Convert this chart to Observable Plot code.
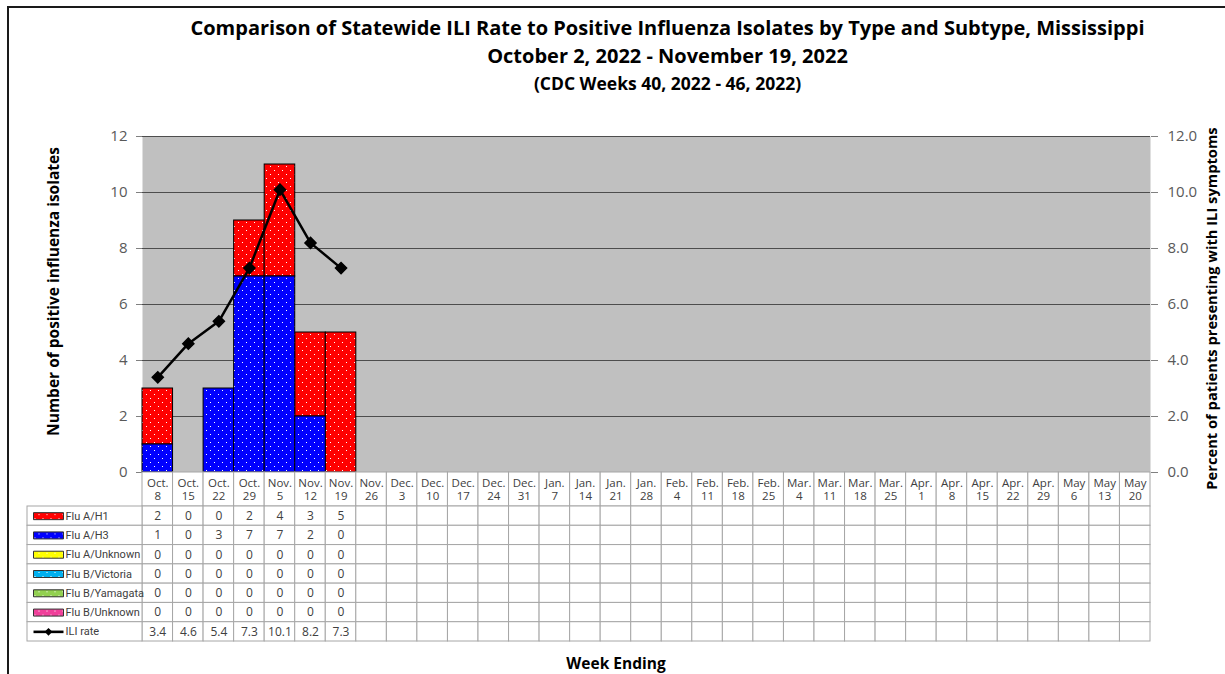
<!DOCTYPE html>
<html><head><meta charset="utf-8">
<script src="https://cdn.jsdelivr.net/npm/d3@7"></script>
<script src="https://cdn.jsdelivr.net/npm/@observablehq/plot@0.6"></script>
<style>
body{margin:0;background:#fff;font-family:"Open Sans",sans-serif;}
#root{position:relative;width:1225px;height:674px;overflow:hidden;background:#fff;}
.abs{position:absolute;}
.ttl{position:absolute;left:110px;right:0;text-align:center;font-weight:bold;color:#000;white-space:nowrap;}
#frameBox{position:absolute;left:7px;top:6px;width:1300px;height:800px;border-left:2px solid #1a1a1a;border-top:2px solid #1a1a1a;}
</style></head><body><div id="root">
<div id="frameBox"></div>
<svg width="0" height="0" style="position:absolute"><defs id="pdefs"></defs></svg>
<div class="ttl" style="top:14px;font-size:20px;line-height:28px;">Comparison of Statewide ILI Rate to Positive Influenza Isolates by Type and Subtype, Mississippi</div>
<div class="ttl" style="top:42px;font-size:20px;line-height:28px;">October 2, 2022 - November 19, 2022</div>
<div class="ttl" style="top:71px;font-size:17.5px;line-height:24px;">(CDC Weeks 40, 2022 - 46, 2022)</div>
<div class="abs" style="left:0;width:1232px;top:655px;text-align:center;font-weight:bold;font-size:15.5px;line-height:17px;">Week Ending</div>
</div>
<script>
// ---- data ----
const months = ["Oct.","Oct.","Oct.","Oct.","Nov.","Nov.","Nov.","Nov.","Dec.","Dec.","Dec.","Dec.","Dec.","Jan.","Jan.","Jan.","Jan.","Feb.","Feb.","Feb.","Feb.","Mar.","Mar.","Mar.","Mar.","Apr.","Apr.","Apr.","Apr.","Apr.","May","May","May"];
const days = [8,15,22,29,5,12,19,26,3,10,17,24,31,7,14,21,28,4,11,18,25,4,11,18,25,1,8,15,22,29,6,13,20];
const fluAH1 = [2,0,0,2,4,3,5];
const fluAH3 = [1,0,3,7,7,2,0];
const fluAUnknown = [0,0,0,0,0,0,0];
const fluBVictoria = [0,0,0,0,0,0,0];
const fluBYamagata = [0,0,0,0,0,0,0];
const fluBUnknown = [0,0,0,0,0,0,0];
const iliRate = [3.4,4.6,5.4,7.3,10.1,8.2,7.3];
const seriesNames = ["Flu A/H1","Flu A/H3","Flu A/Unknown","Flu B/Victoria","Flu B/Yamagata","Flu B/Unknown","ILI rate"];
const seriesColors = ["#ff0000","#0000ff","#ffff00","#00b0f0","#92d050","#f0409a"];
const stackOrder = ["Flu A/H3","Flu A/H1","Flu A/Unknown","Flu B/Victoria","Flu B/Yamagata","Flu B/Unknown"];
const yTicks = [0,2,4,6,8,10,12];
const leftTitle = "Number of positive influenza isolates";
const rightTitle = "Percent of patients presenting with ILI symptoms";

// ---- patterns (white dots) ----
const defs = document.getElementById("pdefs");
seriesColors.forEach((c,i)=>{
  defs.insertAdjacentHTML("beforeend",
   `<pattern id="pat${i}" width="8" height="8" patternUnits="userSpaceOnUse">
      <rect width="8" height="8" fill="${c}"/>
      <rect x="2" y="2" width="1" height="1" fill="#fff"/>
      <rect x="6" y="6" width="1" height="1" fill="#fff"/>
    </pattern>`);
});
const pat = i => `url(#pat${i})`;

const weeks = months.map((m,i)=>`${m}\n${days[i]}`);
const seriesValues = [fluAH1, fluAH3, fluAUnknown, fluBVictoria, fluBYamagata, fluBUnknown];
const barData = [];
seriesValues.forEach((vals,s)=>vals.forEach((v,i)=>{ if (v>0) barData.push({week:weeks[i], value:v, series:seriesNames[s], fill:pat(s)}); }));
const iliData = iliRate.map((v,i)=>({week:weeks[i], ili:v}));

const root = document.getElementById("root");
function place(el, left, top){ el.style.position="absolute"; el.style.left=left+"px"; el.style.top=top+"px"; root.appendChild(el); }
const xBand = {type:"band", domain:weeks, padding:0, round:false, axis:null};

// ---- main chart ----
const main = Plot.plot({
  width:1225, height:480, marginTop:136, marginBottom:8, marginLeft:142, marginRight:75,
  style:{fontFamily:"Open Sans", fontSize:"15px", background:"transparent", overflow:"visible"},
  x:xBand,
  y:{domain:[0,12], axis:null},
  color:{type:"identity"},
  marks:[
    Plot.frame({fill:"#c0c0c0", stroke:null}),
    Plot.gridY(yTicks.slice(1), {stroke:"#4d4d4d", strokeOpacity:1}),
    Plot.barY(barData, Plot.stackY({x:"week", y:"value", z:"series", fill:"fill", stroke:"#000", strokeWidth:1, order:stackOrder})),
    Plot.ruleY([0], {stroke:"#808080"}),
    Plot.line(iliData, {x:"week", y:"ili", stroke:"#000", strokeWidth:2.5}),
    Plot.dot(iliData, {x:"week", y:"ili", symbol:"diamond2", r:5, fill:"#000", stroke:"#000"}),
    Plot.axisY(yTicks, {anchor:"left", tickSize:6, tickPadding:9, stroke:"#808080", fill:"#595959", fontSize:15, label:null}),
    Plot.axisY(yTicks, {anchor:"right", tickSize:7, tickPadding:10, stroke:"#808080", fill:"#595959", fontSize:15,
      tickFormat:d=>d.toFixed(1), label:null}),
    Plot.text([leftTitle], {text:d=>d, frameAnchor:"left", textAnchor:"middle", lineAnchor:"middle", rotate:-90, dx:-88, dy:-13, fontSize:15.5, fontWeight:"bold", fill:"#000"}),
    Plot.text([rightTitle], {text:d=>d, frameAnchor:"right", textAnchor:"middle", lineAnchor:"middle", rotate:-90, dx:62, dy:4, fontSize:14.7, fontWeight:"bold", fill:"#000"})
  ]
});
place(main, 0, 0);

// ---- table header ----
const header = Plot.plot({
  width:1225, height:34, marginTop:0, marginBottom:0, marginLeft:142, marginRight:75,
  style:{fontFamily:"Open Sans", background:"transparent", overflow:"visible"},
  x:xBand,
  marks:[
    Plot.cell(weeks, {x:d=>d, fill:"#fff", stroke:"#a6a6a6"}),
    Plot.text(weeks, {x:d=>d, text:d=>d, fontSize:11.5, lineHeight:1.12, fill:"#404040"})
  ]
});
place(header, 0, 472);

// ---- table body ----
const cells = [];
seriesNames.forEach((name,r)=>{
  const vals = r < 6 ? seriesValues[r] : iliRate;
  weeks.forEach((w,i)=>cells.push({week:w, row:name, text: i < vals.length ? String(vals[i]) : ""}));
});
const body = Plot.plot({
  width:1225, height:137, marginTop:1, marginBottom:1, marginLeft:142, marginRight:75,
  style:{fontFamily:"Open Sans", background:"transparent", overflow:"visible"},
  x:xBand,
  y:{type:"band", domain:seriesNames, padding:0, round:false, axis:null},
  marks:[
    Plot.cell(cells, {x:"week", y:"row", fill:"#fff", stroke:"#a6a6a6"}),
    Plot.text(cells, {x:"week", y:"row", text:"text", fontSize:12, fill:"#404040"})
  ]
});
place(body, 0, 505);

// ---- legend column ----
const swatch = {draw(ctx){ ctx.moveTo(-15,-3.5); ctx.lineTo(15,-3.5); ctx.lineTo(15,3.5); ctx.lineTo(-15,3.5); ctx.closePath(); }};
const lineSym = {draw(ctx){ ctx.moveTo(-15,-1.3); ctx.lineTo(15,-1.3); ctx.lineTo(15,1.3); ctx.lineTo(-15,1.3); ctx.closePath(); }};
const barRows = seriesNames.slice(0,6).map((n,i)=>({name:n, fill:pat(i)}));
const legend = Plot.plot({
  width:116, height:137, marginTop:1, marginBottom:1, marginLeft:0, marginRight:1,
  style:{fontFamily:"Roboto", background:"transparent", overflow:"visible"},
  y:{type:"band", domain:seriesNames, padding:0, round:false, axis:null},
  color:{type:"identity"},
  marks:[
    Plot.cell(seriesNames, {y:d=>d, fill:"#fff", stroke:"#a6a6a6"}),
    Plot.dot(barRows, {y:"name", frameAnchor:"left", dx:21, symbol:swatch, fill:"fill", stroke:"#333", strokeWidth:1}),
    Plot.dot(["ILI rate"], {y:d=>d, frameAnchor:"left", dx:21, symbol:lineSym, fill:"#000"}),
    Plot.dot(["ILI rate"], {y:d=>d, frameAnchor:"left", dx:21, symbol:"diamond2", r:2.5, fill:"#000", stroke:"#000"}),
    Plot.text(seriesNames, {y:d=>d, text:d=>d, frameAnchor:"left", dx:38, textAnchor:"start", fontSize:11, fill:"#404040"})
  ]
});
place(legend, 27, 505);
</script>
</body></html>
